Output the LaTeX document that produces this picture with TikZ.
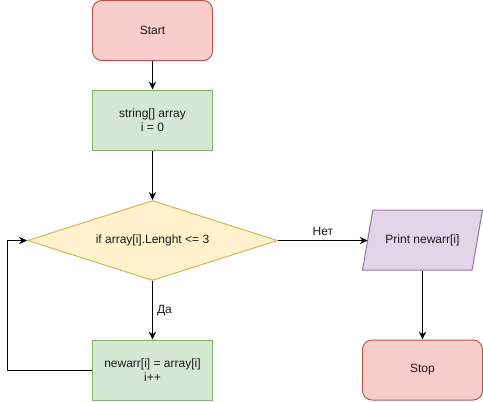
\documentclass[tikz,border=0pt]{standalone}
\usepackage{fontspec}
\setmainfont{Liberation Sans}
\usetikzlibrary{shapes.geometric,arrows.meta}
\definecolor{redfill}{HTML}{F8CECC}\definecolor{redline}{HTML}{B85450}
\definecolor{greenfill}{HTML}{D5E8D4}\definecolor{greenline}{HTML}{82B366}
\definecolor{yellowfill}{HTML}{FFF2CC}\definecolor{yellowline}{HTML}{D6B656}
\definecolor{purplefill}{HTML}{E1D5E7}\definecolor{purpleline}{HTML}{9673A6}
\definecolor{textcol}{HTML}{1A1A1A}
\tikzset{
  base/.style={line width=0.75pt, align=center, inner sep=0pt, text=textcol,
    font=\fontsize{9pt}{10.5pt}\selectfont},
  terminal/.style={base, rectangle, rounded corners=7pt, draw=redline, fill=redfill,
    minimum width=90pt, minimum height=45pt},
  process/.style={base, rectangle, draw=greenline, fill=greenfill,
    minimum width=90pt, minimum height=45pt},
  decision/.style={base, diamond, aspect=3.125, draw=yellowline, fill=yellowfill,
    minimum width=187.5pt, minimum height=60pt},
  ioshape/.style={line width=0.75pt, draw=purpleline, fill=purplefill},
  iotext/.style={base, rectangle, minimum width=90pt, minimum height=45pt},
  conn/.style={line width=0.75pt, -{Stealth[length=6pt,width=5.5pt,inset=2pt]}},
  lbl/.style={font=\fontsize{9pt}{10.5pt}\selectfont, text=textcol, inner sep=2pt}
}
\begin{document}
\begin{tikzpicture}[x=0.75pt,y=-0.75pt]
\useasboundingbox (0,0) rectangle (483,401);
\node[terminal] (start) at (152.5,30.5) {Start};
\node[process] (init) at (152.5,120) {string[] array\\i = 0};
\node[decision] (cond) at (152.5,240.5) {if array[i].Lenght <= 3};
\node[process] (newarr) at (152.5,370) {newarr[i] = array[i]\\i++};
\path[ioshape] (372.9,210) -- (482.5,210) -- (472.1,270) -- (362.5,270) -- cycle;
\node[iotext] (print) at (422.5,240) {Print newarr[i]};
\coordinate (printin) at (367.7,240.5);
\node[terminal] (stop) at (422.5,370) {Stop};
\draw[conn] (start) -- (init);
\draw[conn] (init) -- (cond);
\draw[conn] (cond) -- node[lbl, right, xshift=1pt] {Да} (newarr);
\draw[conn] (cond.east) -- node[lbl, above, yshift=1pt] {Нет} (printin);
\draw[conn] (print) -- (stop);
\draw[conn] (newarr.west) -- ++(-85,0) |- (cond.west);
\end{tikzpicture}
\end{document}
